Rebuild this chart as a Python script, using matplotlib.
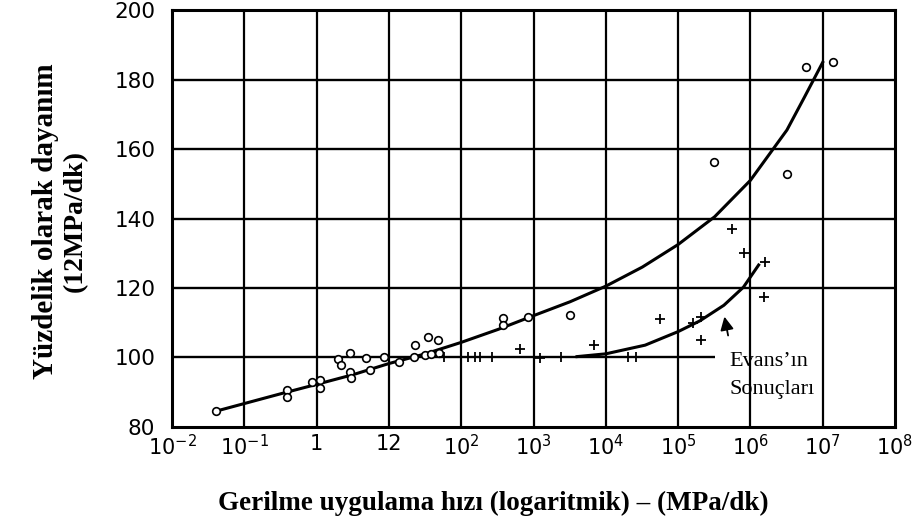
import matplotlib
matplotlib.use("Agg")
import matplotlib.pyplot as plt

# ---- data ----
circle_x = [0.041, 0.39, 0.39, 0.87, 1.12, 1.12, 2.0, 2.9, 2.2, 2.9, 3.0, 4.8, 5.4,
            8.5, 14, 22, 23, 32, 35, 48, 38, 50, 380, 380, 850, 3200,
            3.1e5, 3.2e6, 5.8e6, 1.4e7]
circle_y = [84.5, 90.6, 88.6, 93.0, 93.5, 91.1, 99.4, 101.3, 97.8, 95.9, 94.0, 99.7, 96.3,
            100.2, 98.7, 100.0, 103.5, 100.7, 105.8, 105.0, 101.0, 101.2, 111.2, 109.3, 111.7, 112.2,
            156.4, 152.9, 183.8, 185.2]

cross_x = [58, 126, 155, 182, 270, 650, 1230, 2400, 6800, 2.0e4, 2.6e4, 5.6e4,
           1.6e5, 2.1e5, 2.1e5, 5.5e5, 8.1e5, 1.6e6, 1.55e6]
cross_y = [100.2, 100.2, 100.2, 100.2, 100.2, 102.3, 99.7, 100.0, 103.5, 100.2, 100.2, 111.0,
           110.0, 111.7, 105.0, 136.9, 130.0, 127.6, 117.3]

curve1_x = [0.041, 0.32, 1, 3.2, 10, 32, 100, 320, 1e3, 3.2e3, 1e4, 3.2e4, 1e5, 3.2e5,
            1e6, 3.2e6, 5.6e6, 1e7]
curve1_y = [84.5, 89.5, 92.2, 95.0, 98.2, 101.0, 104.3, 108.0, 112.0, 116.0, 120.5, 126.0,
            132.5, 140.5, 151.0, 165.5, 175.0, 185.0]

curve2_x = [4000, 1e4, 3.5e4, 1e5, 2e5, 4.3e5, 8e5, 1.3e6]
curve2_y = [100.2, 101.0, 103.5, 107.4, 110.5, 115.0, 120.2, 126.6]

xtick_vals = [1e-2, 1e-1, 1, 10, 1e2, 1e3, 1e4, 1e5, 1e6, 1e7, 1e8]
xtick_labels = [r'$10^{-2}$', r'$10^{-1}$', '1', '12', r'$10^{2}$', r'$10^{3}$',
                r'$10^{4}$', r'$10^{5}$', r'$10^{6}$', r'$10^{7}$', r'$10^{8}$']
ytick_vals = [80, 100, 120, 140, 160, 180, 200]

vgrid_vals = [1e-1, 1, 10, 1e2, 1e3, 1e4, 1e5, 1e6, 1e7]
hgrid_vals = [120, 140, 160, 180]
evans_line_y = 100
evans_line_end = 3.2e5

evans_text = ["Evans\u2019ın", "Sonuçları"]
evans_text_x = 5.2e5
evans_text_y = [98.9, 90.6]
arrow_tip = (4.3e5, 112.5)
arrow_tail = (5.0e5, 105.5)

# ---- figure ----
fig = plt.figure(figsize=(9.16, 5.24), dpi=100)
ax = fig.add_axes([172 / 916, 0.1857, (895 - 172) / 916, 0.7946])
ax.set_xscale('log')
ax.set_xlim(1e-2, 1e8)
ax.set_ylim(80, 200)

for v in vgrid_vals:
    ax.axvline(v, color='black', lw=1.6, zorder=1)
for h in hgrid_vals:
    ax.axhline(h, color='black', lw=1.7, zorder=1)
ax.hlines(evans_line_y, 1e-2, evans_line_end, color='black', lw=1.7, zorder=1)

ax.plot(curve1_x, curve1_y, color='black', lw=2.2, zorder=3)
ax.plot(curve2_x, curve2_y, color='black', lw=2.2, zorder=3)

ax.plot(circle_x, circle_y, linestyle='none', marker='o', markersize=5.5,
        markerfacecolor='white', markeredgecolor='black', markeredgewidth=1.2, zorder=4)
ax.plot(cross_x, cross_y, linestyle='none', marker='+', markersize=7,
        color='black', markeredgewidth=1.3, zorder=4)

ax.annotate('', xy=arrow_tip, xytext=arrow_tail,
            arrowprops=dict(arrowstyle='-|>', color='black', lw=1.3, mutation_scale=20))

for t, yy in zip(evans_text, evans_text_y):
    ax.text(evans_text_x, yy, t, family='Liberation Serif', fontsize=16,
            ha='left', va='center')

ax.set_xticks(xtick_vals)
ax.set_xticklabels(xtick_labels)
ax.set_yticks(ytick_vals)
ax.set_yticklabels([str(v) for v in ytick_vals])
ax.tick_params(axis='x', which='major', direction='in', length=6, width=1.2,
               labelsize=15, pad=5, top=True)
ax.tick_params(axis='x', which='minor', direction='in', length=3, width=0.8, top=True)
ax.tick_params(axis='y', which='major', direction='in', length=0, labelsize=15.5, pad=12)
for s in ax.spines.values():
    s.set_linewidth(2.2)

fig.text(493 / 916, 1 - 503 / 524, "Gerilme uygulama hızı (logaritmik) – (MPa/dk)",
         family='Liberation Serif', fontweight='bold', fontsize=19.5, ha='center', va='center')
fig.text(46 / 916, 1 - 221 / 524, "Yüzdelik olarak dayanım",
         family='Liberation Serif', fontweight='bold', fontsize=21, ha='center', va='center',
         rotation=90)
fig.text(75 / 916, 1 - 221 / 524, "(12MPa/dk)",
         family='Liberation Serif', fontweight='bold', fontsize=20, ha='center', va='center',
         rotation=90)

fig.savefig("out.png", dpi=100)
